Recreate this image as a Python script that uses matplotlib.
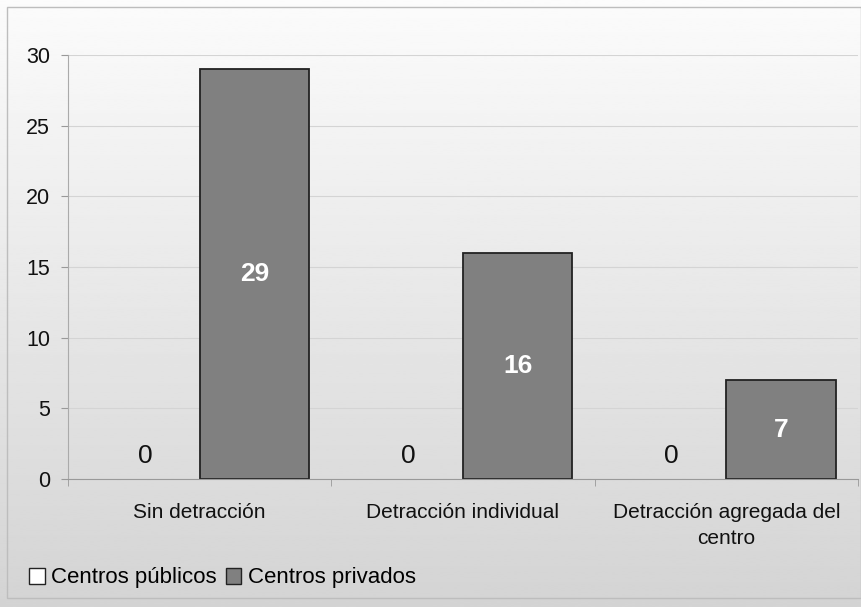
import matplotlib
matplotlib.use("Agg")
import matplotlib.pyplot as plt
import numpy as np
from matplotlib.patches import Rectangle, Patch

categories = ["Sin detracción", "Detracción individual", "Detracción agregada del\ncentro"]
publicos = [0, 0, 0]
privados = [29, 16, 7]
series_names = ["Centros públicos", "Centros privados"]
yticks = [0, 5, 10, 15, 20, 25, 30]

plt.rcParams['font.family'] = ['Liberation Sans', 'DejaVu Sans']

fig = plt.figure(figsize=(8.61, 6.07), dpi=100)

# gradient background
bg = fig.add_axes([0, 0, 1, 1], zorder=-10)
grad = np.linspace(0.985, 0.83, 256).reshape(-1, 1)
bg.imshow(grad, cmap='gray', vmin=0, vmax=1, aspect='auto', extent=[0, 1, 0, 1])
bg.set_xlim(0, 1); bg.set_ylim(0, 1)
bg.axis('off')
bg.add_patch(Rectangle((7/861, 9/607), 1 - 7/861, 1 - 16/607, fill=False,
                       edgecolor='#bdbdbd', lw=1.0, transform=bg.transAxes))

ax = fig.add_axes([68/861, 128/607, (858-68)/861, (552-128)/607])
ax.patch.set_alpha(0)

x = np.arange(len(categories))
w = 0.415
ax.bar(x - w/2, publicos, w, color='white', edgecolor='none', lw=0)
ax.bar(x + w/2, privados, w, color='#808080', edgecolor='#222222', lw=1.3)

for xi, v in zip(x, publicos):
    ax.text(xi - w/2, v + 1.6, str(v), ha='center', va='center', fontsize=19, color='#111111')
for xi, v in zip(x, privados):
    ax.text(xi + w/2, v/2, str(v), ha='center', va='center', fontsize=19, color='white', fontweight='bold')

ax.set_xlim(-0.5, len(categories) - 0.5)
ax.set_ylim(0, 30)
ax.set_yticks(yticks)
ax.yaxis.grid(True, color='#d4d4d4', lw=0.8)
ax.set_axisbelow(True)
ax.set_xticks(np.arange(len(categories) + 1) - 0.5, minor=True)
ax.set_xticks(x)
ax.set_xticklabels(categories, fontsize=15, color='#111111', linespacing=1.5)
ax.tick_params(axis='x', which='major', length=0, pad=17)
ax.tick_params(axis='x', which='minor', length=5, color='#999999', direction='out')
ax.tick_params(axis='y', length=5, color='#999999', labelsize=15.5, labelcolor='#111111', pad=8)
for s in ['top', 'right']:
    ax.spines[s].set_visible(False)
ax.spines['left'].set_color('#aaaaaa')
ax.spines['bottom'].set_color('#999999')

handles = [Patch(facecolor='white', edgecolor='#222222', lw=1.0, label=series_names[0]),
           Patch(facecolor='#808080', edgecolor='#222222', lw=1.0, label=series_names[1])]
leg = fig.legend(handles=handles, loc='center left', bbox_to_anchor=(9/861, (607-578)/607), ncol=2, frameon=False,
                 fontsize=16, handlelength=0.7, handleheight=0.7, handletextpad=0.3,
                 columnspacing=0.4)

fig.savefig("out.png", dpi=100)
